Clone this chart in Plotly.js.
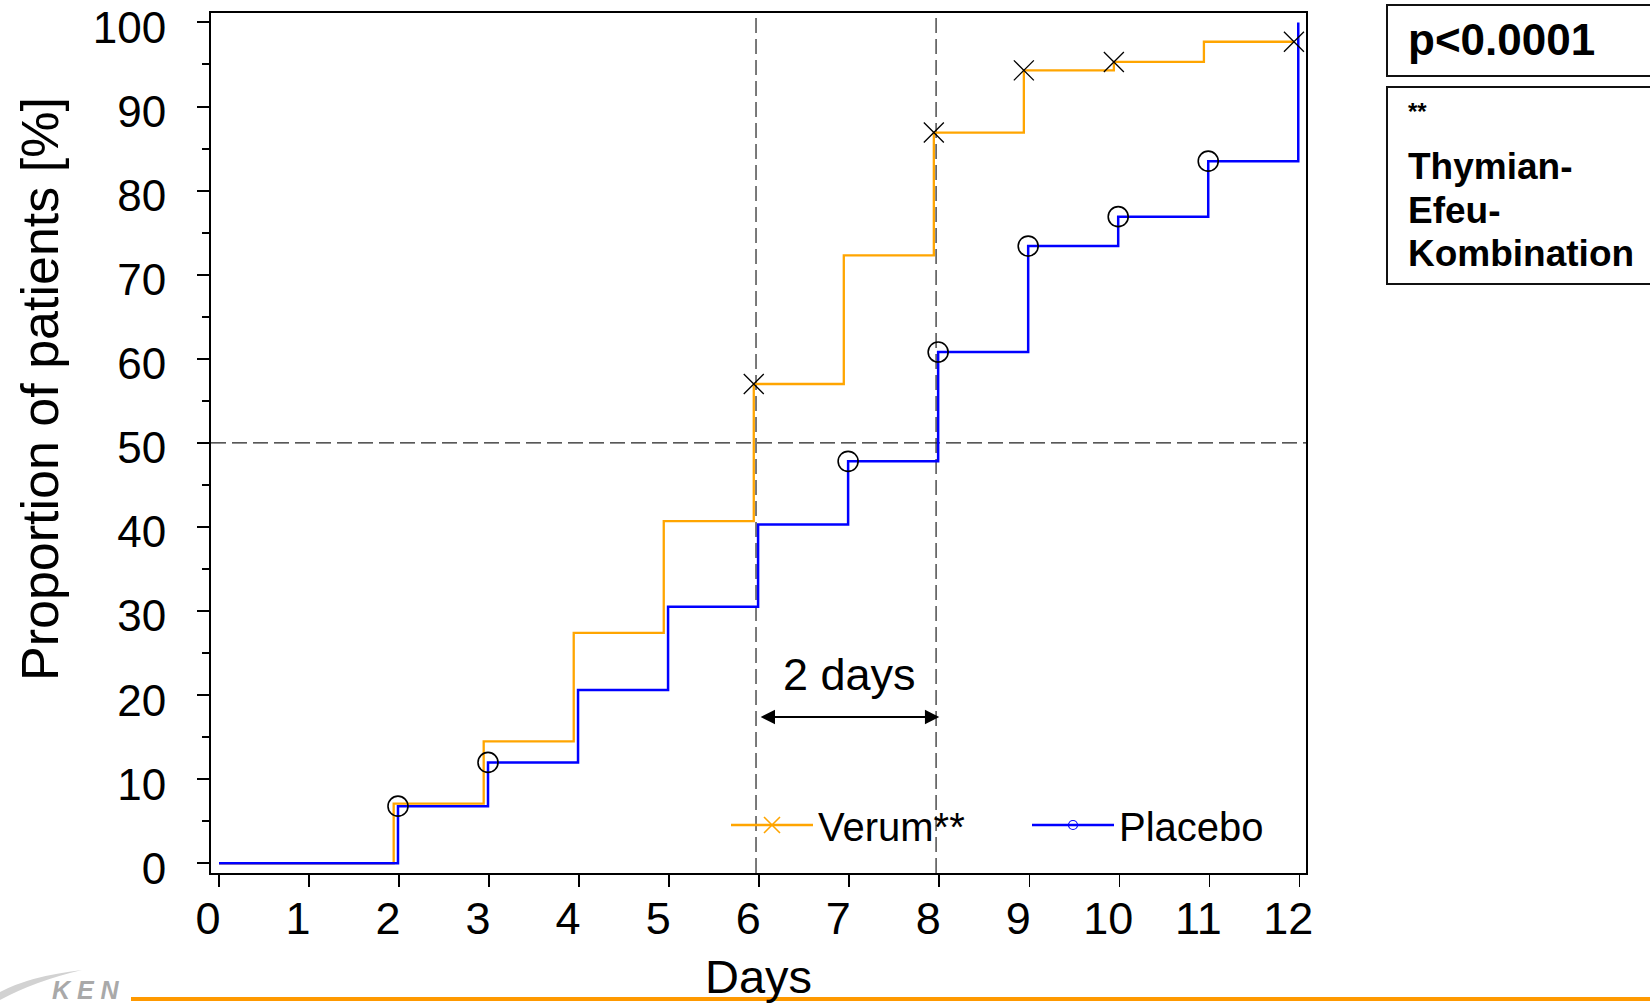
<!DOCTYPE html>
<html><head><meta charset="utf-8">
<script src="https://cdn.plot.ly/plotly-3.0.1.min.js"></script>
<style>html,body{margin:0;padding:0;background:#fff;overflow:hidden}#chart{width:1650px;height:1003px}</style>
</head><body><div id="chart"></div>
<script>
// ---- data ----
const days = [0, 1, 2, 3, 4, 5, 6, 7, 8, 9, 10, 11, 12];
const verum = [0, 0, 7.1, 14.5, 27.4, 40.7, 57.0, 72.3, 86.9, 94.3, 95.3, 97.7, 97.7];
const placebo = [0, 0, 6.8, 12.0, 20.6, 30.5, 40.3, 47.8, 60.8, 73.4, 76.9, 83.5, 100];
const verumMarkDays = [6, 8, 9, 10, 12];
const placeboMarkDays = [2, 3, 7, 8, 9, 10, 11];
const xTickVals = [0, 1, 2, 3, 4, 5, 6, 7, 8, 9, 10, 11, 12];
const yTickVals = [0, 10, 20, 30, 40, 50, 60, 70, 80, 90, 100];
const seriesNames = ['Verum**', 'Placebo'];
const medianLevel = 50;
const compareDays = [6, 8];
const diffLabel = '2 days';
const pLabel = 'p<0.0001';
const footnoteMark = '**';
const footnoteLines = ['Thymian-', 'Efeu-', 'Kombination'];
const xTitle = 'Days';
const yTitle = 'Proportion of patients [%]';
const logoText = 'K E N';

// ---- styles ----
const FONT = 'Liberation Sans, Arial, sans-serif';
const ORANGE = '#FFA500';
const BLUE = '#0000FF';
const verumShift = -0.06;     // steps drawn slightly left, as in the reference
const placeboShift = -0.012;
const refLineShift = -0.035;
const arrowLevel = 17.4;
const labelLevel = 22.5;

// plot-area geometry helpers (pixels -> paper)
const M = {l: 211, r: 344, t: 13, b: 130};
const W = 1650, H = 1003;
const PW = W - M.l - M.r, PH = H - M.t - M.b;
const px = v => (v - M.l) / PW;
const py = v => (H - M.b - v) / PH;

const valAt = (arr, d) => arr[days.indexOf(d)];
const shifted = (arr, s) => arr.map((d, i) => (i === 0 ? d : d + s));

const traces = [
  {x: shifted(days, verumShift), y: verum, mode: 'lines', line: {shape: 'hv', color: ORANGE, width: 2.3},
   legendgroup: 'v', showlegend: false, name: seriesNames[0], hoverinfo: 'x+y'},
  {x: shifted(days, placeboShift), y: placebo, mode: 'lines', line: {shape: 'hv', color: BLUE, width: 2.5},
   legendgroup: 'p', showlegend: false, name: seriesNames[1], hoverinfo: 'x+y'},
  {x: verumMarkDays.map(d => d + verumShift), y: verumMarkDays.map(d => valAt(verum, d)), mode: 'markers',
   marker: {symbol: 'x-thin-open', size: 20, color: '#000', line: {color: '#000', width: 1.3}},
   legendgroup: 'v', showlegend: false, name: seriesNames[0]},
  {x: placeboMarkDays.map(d => d + placeboShift), y: placeboMarkDays.map(d => valAt(placebo, d)), mode: 'markers',
   marker: {symbol: 'circle-open', size: 20, color: '#000', line: {color: '#000', width: 1.6}},
   legendgroup: 'p', showlegend: false, name: seriesNames[1]},
  // legend entries
  {x: [null], y: [null], mode: 'lines+markers', name: seriesNames[0], legendgroup: 'v',
   line: {color: ORANGE, width: 2.5}, marker: {symbol: 'x-thin-open', size: 16, color: ORANGE, line: {color: ORANGE, width: 1.6}}},
  {x: [null], y: [null], mode: 'lines+markers', name: seriesNames[1], legendgroup: 'p',
   line: {color: BLUE, width: 2.5}, marker: {symbol: 'circle-open', size: 9, color: BLUE, line: {color: BLUE, width: 1.2}}}
];

const dashStyle = {color: '#222', width: 1.2, dash: '15px,6px'};
const shapes = [
  {type: 'line', xref: 'paper', yref: 'y', x0: 0, x1: 1, y0: medianLevel, y1: medianLevel, line: dashStyle, layer: 'below'},
  ...compareDays.map(d => ({type: 'line', xref: 'x', yref: 'paper', x0: d + refLineShift, x1: d + refLineShift, y0: 0, y1: 1, line: dashStyle, layer: 'below'})),
  // side boxes
  {type: 'rect', xref: 'paper', yref: 'paper', x0: px(1387), x1: px(1700), y0: py(76), y1: py(5), line: {color: '#111', width: 2}},
  {type: 'rect', xref: 'paper', yref: 'paper', x0: px(1387), x1: px(1700), y0: py(284), y1: py(87), line: {color: '#111', width: 2}},
  // footer bar
  {type: 'rect', xref: 'paper', yref: 'paper', x0: px(131), x1: px(1700), y0: py(1001), y1: py(997), line: {width: 0}, fillcolor: '#FF9900'},
  // logo swoosh
  {type: 'path', xref: 'paper', yref: 'paper',
   path: `M${px(0)},${py(992)} Q${px(30)},${py(976)} ${px(82)},${py(970)} Q${px(35)},${py(981)} ${px(0)},${py(1000)} Z`,
   fillcolor: '#d2d2d2', line: {width: 0}}
];

const annotations = [
  {xref: 'paper', yref: 'paper', x: px(40), y: py(389), xanchor: 'center', yanchor: 'middle', textangle: -90,
   text: yTitle, showarrow: false, font: {family: FONT, size: 52, color: '#000'}},
  {xref: 'x', yref: 'y', x: (compareDays[0] + compareDays[1]) / 2, y: labelLevel, text: diffLabel, showarrow: false,
   font: {family: FONT, size: 45, color: '#000'}},
  {xref: 'x', yref: 'y', axref: 'x', ayref: 'y', x: compareDays[1], y: arrowLevel, ax: compareDays[0], ay: arrowLevel,
   text: '', showarrow: true, arrowside: 'end+start', arrowhead: 2, arrowsize: 1.3, arrowwidth: 2.2, arrowcolor: '#000',
   standoff: 0, startstandoff: 0},
  {xref: 'paper', yref: 'paper', x: px(1406), y: py(40), xanchor: 'left', yanchor: 'middle', text: '<b>' + pLabel + '</b>',
   showarrow: false, font: {family: FONT, size: 44, color: '#000'}},
  {xref: 'paper', yref: 'paper', x: px(1406), y: py(112), xanchor: 'left', yanchor: 'middle', text: '<b>' + footnoteMark + '</b>',
   showarrow: false, font: {family: FONT, size: 24, color: '#000'}},
  ...footnoteLines.map((t, i) => ({xref: 'paper', yref: 'paper', x: px(1406), y: py(167 + i * 43.5), xanchor: 'left', yanchor: 'middle',
   text: '<b>' + t + '</b>', showarrow: false, font: {family: FONT, size: 37, color: '#000'}})),
  {xref: 'paper', yref: 'paper', x: px(86), y: py(990), xanchor: 'center', yanchor: 'middle', text: '<b><i>' + logoText + '</i></b>',
   showarrow: false, font: {family: FONT, size: 25, color: '#a9a9a9'}}
];

const layout = {
  width: W, height: H,
  margin: M,
  paper_bgcolor: '#fff', plot_bgcolor: '#fff',
  font: {family: FONT, color: '#000'},
  showlegend: true,
  legend: {orientation: 'h', x: px(726), xanchor: 'left', y: py(825), yanchor: 'middle',
    bgcolor: 'rgba(0,0,0,0)', borderwidth: 0, font: {family: FONT, size: 40, color: '#000'},
    itemwidth: 82, entrywidth: 204, entrywidthmode: 'pixels', traceorder: 'normal'},
  xaxis: {range: [-0.089, 12.074], tickvals: xTickVals, ticktext: xTickVals.map(String),
    showgrid: false, zeroline: false, showline: true, mirror: true, linecolor: '#000', linewidth: 2,
    ticks: 'outside', ticklen: 12, tickwidth: 1.5, tickcolor: '#000',
    tickfont: {family: FONT, size: 45, color: '#000'}, ticklabelshift: -11, ticklabelstandoff: -7,
    ticklabeloverflow: 'allow',
    title: {text: xTitle, font: {family: FONT, size: 47, color: '#000'}, standoff: 17}},
  yaxis: {range: [-1.15, 101.12], tickvals: yTickVals, ticktext: yTickVals.map(String),
    showgrid: false, zeroline: false, showline: true, mirror: true, linecolor: '#000', linewidth: 2,
    ticks: 'outside', ticklen: 12, tickwidth: 2, tickcolor: '#000',
    minor: {ticks: 'outside', ticklen: 7, tickwidth: 2, tickcolor: '#000', dtick: 5, tick0: 0, showgrid: false},
    tickfont: {family: FONT, size: 44, color: '#000'}, ticklabelshift: 5, ticklabelstandoff: 22,
    ticklabeloverflow: 'allow'},
  shapes, annotations
};

Plotly.newPlot('chart', traces, layout, {displayModeBar: false, staticPlot: true});
</script>
</body></html>
